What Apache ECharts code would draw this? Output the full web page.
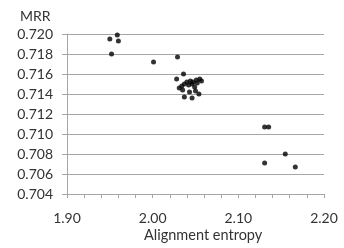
<!DOCTYPE html>
<html><head><meta charset="utf-8">
<script src="https://cdn.jsdelivr.net/npm/echarts@6/dist/echarts.min.js"></script>
<style>html,body{margin:0;padding:0;background:#fff}#c{width:344px;height:248px}</style>
</head><body><div id="c"></div>
<script>
const entropy = [1.950, 1.9587, 1.960, 1.952, 2.001, 2.029,
  2.036, 2.028, 2.031, 2.034, 2.037, 2.040, 2.044, 2.047, 2.051, 2.055, 2.057,
  2.042, 2.046, 2.049, 2.052, 2.054, 2.043, 2.037, 2.046, 2.035, 2.050,
  2.1307, 2.1354, 2.1548, 2.1307, 2.1665];
const mrr = [0.7195, 0.7199, 0.7193, 0.7180, 0.7172, 0.7177,
  0.7160, 0.7155, 0.7146, 0.7148, 0.7150, 0.7152, 0.7153, 0.7152, 0.7154, 0.7155, 0.7153,
  0.7149, 0.7150, 0.7147, 0.7151, 0.7140, 0.7142, 0.7137, 0.7136, 0.7144, 0.7143,
  0.7107, 0.7107, 0.7080, 0.7071, 0.7067];
const xTicks = [1.9, 2.0, 2.1, 2.2];
const yTicks = [0.704, 0.706, 0.708, 0.710, 0.712, 0.714, 0.716, 0.718, 0.720];
const yTitle = 'MRR';
const xTitle = 'Alignment entropy';

const pts = entropy.map((x, i) => [x, mrr[i]]);
const font = 'Lato, "Open Sans", sans-serif';
const chart = echarts.init(document.getElementById('c'), null, {renderer: 'canvas'});
chart.setOption({
  animation: false,
  grid: {left: 67, right: 20, top: 34, bottom: 54},
  title: {text: yTitle, left: 15, top: 4,
    textStyle: {fontFamily: font, fontSize: 14, fontWeight: 'normal', color: '#333'}},
  graphic: [{type: 'text', left: 144, top: 228,
    style: {text: xTitle, font: '14.5px ' + font, fill: '#333'}}],
  xAxis: {type: 'value', min: xTicks[0], max: xTicks[xTicks.length - 1], interval: 0.1,
    axisLine: {show: true, lineStyle: {color: '#a6a6a6', width: 1}},
    axisTick: {show: true, length: 4, lineStyle: {color: '#a6a6a6'}},
    minorTick: {show: true, splitNumber: 5, length: 4, lineStyle: {color: '#a6a6a6'}},
    splitLine: {show: false},
    axisLabel: {margin: 17, fontFamily: font, fontSize: 14, color: '#333',
      formatter: v => v.toFixed(2)}},
  yAxis: {type: 'value', min: yTicks[0], max: yTicks[yTicks.length - 1], interval: 0.002,
    axisLine: {show: true, lineStyle: {color: '#a6a6a6', width: 1}},
    axisTick: {show: true, length: 5, lineStyle: {color: '#a6a6a6'}},
    splitLine: {show: true, lineStyle: {color: '#a6a6a6', width: 1}},
    axisLabel: {margin: 14, fontFamily: font, fontSize: 14, color: '#333',
      formatter: v => v.toFixed(3)}},
  series: [{type: 'scatter', data: pts, symbol: 'circle', symbolSize: 5,
    itemStyle: {color: '#000'}}]
});
</script></body></html>
